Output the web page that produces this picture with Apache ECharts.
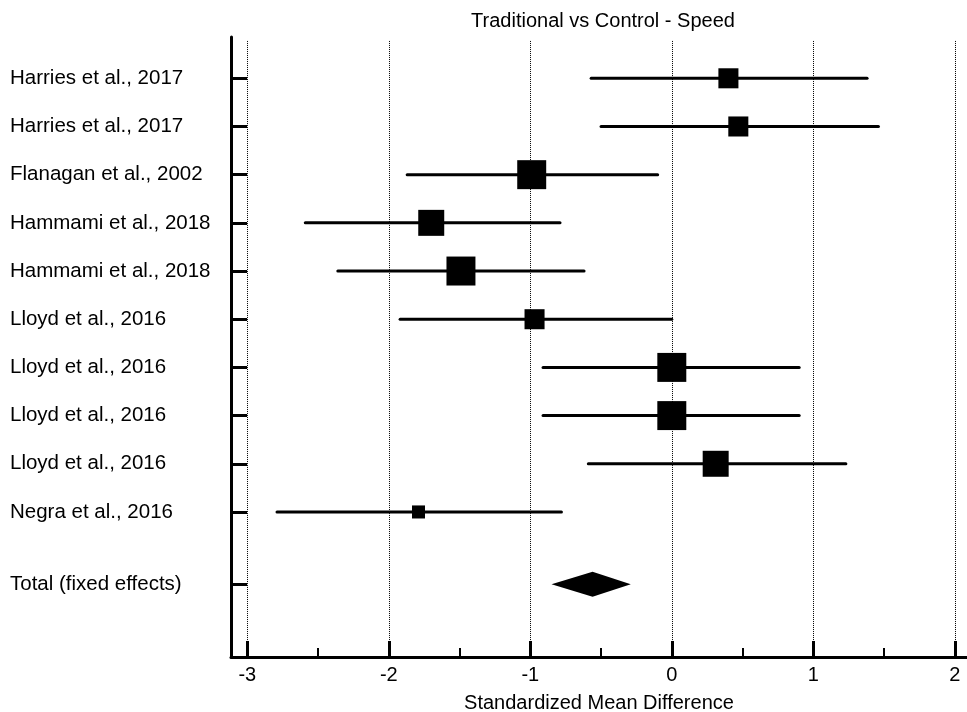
<!DOCTYPE html>
<html>
<head>
<meta charset="utf-8">
<script src="https://cdn.jsdelivr.net/npm/echarts@6/dist/echarts.min.js"></script>
<style>html,body{margin:0;padding:0;background:#fff;}#chart{width:967px;height:712px;}</style>
</head>
<body>
<div id="chart"></div>
<script>
// ---- data ----
var studies = ["Harries et al., 2017","Harries et al., 2017","Flanagan et al., 2002","Hammami et al., 2018","Hammami et al., 2018","Lloyd et al., 2016","Lloyd et al., 2016","Lloyd et al., 2016","Lloyd et al., 2016","Negra et al., 2016"];
var smd   = [0.40, 0.47, -0.99, -1.70, -1.49, -0.97, 0.00, 0.00, 0.31, -1.79];
var lower = [-0.57, -0.50, -1.87, -2.59, -2.36, -1.92, -0.91, -0.91, -0.59, -2.79];
var upper = [1.38, 1.46, -0.10, -0.79, -0.62, 0.00, 0.90, 0.90, 1.23, -0.78];
var weights = [6.6, 6.6, 13.8, 11.1, 13.8, 6.6, 13.8, 13.8, 11.1, 2.8];
var totalLabel = "Total (fixed effects)";
var totalEst = -0.56, totalLower = -0.85, totalUpper = -0.29;
var xTicks = [-3, -2, -1, 0, 1, 2];
var xMinorTicks = [-2.5, -1.5, -0.5, 0.5, 1.5];
var title = "Traditional vs Control - Speed";
var xName = "Standardized Mean Difference";

// ---- build ----
var FONT = "Liberation Sans, Arial, sans-serif";
var totalRow = studies.length + 0.5;
var rowVals = studies.map(function(_, i){ return i; }).concat([totalRow]);
var xMin = -3.115, xMax = 2.086;
var yMin = -0.857, yMax = 12.01, gridTop = -0.775;

var ciData = studies.map(function(_, i){ return [lower[i], upper[i], i]; });
var sqData = studies.map(function(_, i){ return [smd[i], i, weights[i]]; });

var chart = echarts.init(document.getElementById('chart'), null, {renderer: 'canvas'});
chart.setOption({
  backgroundColor: '#fff',
  animation: false,
  title: {
    text: title, left: 598, top: 6, textAlign: 'center',
    textStyle: {fontFamily: FONT, fontSize: 20, fontWeight: 'normal', color: '#000'}
  },
  grid: {left: 231, right: 0, top: 37, bottom: 55, containLabel: false, outerBoundsMode: 'none'},
  xAxis: [{
    type: 'value', min: xMin, max: xMax, interval: 1, position: 'bottom',
    name: xName, nameLocation: 'middle', nameGap: 36,
    nameTextStyle: {fontFamily: FONT, fontSize: 20, color: '#000'},
    axisLine: {show: true, onZero: false, lineStyle: {color: '#000', width: 3}},
    axisTick: {show: true, inside: true, length: 16, customValues: xTicks, lineStyle: {color: '#000', width: 3}},
    axisLabel: {show: true, customValues: xTicks, margin: 8, fontFamily: FONT, fontSize: 20, color: '#000'},
    splitLine: {show: false}
  }, {
    type: 'value', min: xMin, max: xMax, position: 'bottom',
    axisLine: {show: false, onZero: false},
    axisTick: {show: true, inside: true, length: 9, customValues: xMinorTicks, lineStyle: {color: '#000', width: 2}},
    axisLabel: {show: false},
    splitLine: {show: false}
  }],
  yAxis: {
    type: 'value', min: yMin, max: yMax, inverse: true,
    axisLine: {show: true, onZero: false, lineStyle: {color: '#000', width: 3}},
    axisTick: {show: true, inside: true, length: 16, customValues: rowVals, lineStyle: {color: '#000', width: 3}},
    axisLabel: {
      show: true, customValues: rowVals, align: 'left', margin: 221,
      fontFamily: FONT, fontSize: 20.5, color: '#000',
      formatter: function(v){ return v === totalRow ? totalLabel : studies[Math.round(v)]; }
    },
    splitLine: {show: false}
  },
  series: [
    {
      type: 'line', data: [], z: 1, silent: true,
      markLine: {
        symbol: ['none', 'none'], silent: true, animation: false,
        label: {show: false},
        lineStyle: {color: '#000', width: 1, type: [1, 1]},
        data: xTicks.map(function(v){ return [{coord: [v, gridTop]}, {coord: [v, yMax]}]; })
      }
    },
    {
      type: 'custom', z: 3, data: ciData,
      renderItem: function(params, api){
        var p1 = api.coord([api.value(0), api.value(2)]);
        var p2 = api.coord([api.value(1), api.value(2)]);
        return {type: 'line', shape: {x1: p1[0], y1: p1[1], x2: p2[0], y2: p2[1]},
          style: {stroke: '#000', lineWidth: 3, lineCap: 'round'}};
      }
    },
    {
      type: 'scatter', z: 4, data: sqData, symbol: 'rect',
      symbolSize: function(val){ return 7.8 * Math.sqrt(val[2]); },
      itemStyle: {color: '#000', opacity: 1}
    },
    {
      type: 'custom', z: 4, data: [[totalLower, totalEst, totalUpper, totalRow]],
      renderItem: function(params, api){
        var y = api.value(3);
        var l = api.coord([api.value(0), y]);
        var c = api.coord([api.value(1), y]);
        var r = api.coord([api.value(2), y]);
        var h = 12.5;
        return {type: 'polygon', shape: {points: [[l[0], l[1]], [c[0], c[1] - h], [r[0], r[1]], [c[0], c[1] + h]]},
          style: {fill: '#000'}};
      }
    }
  ]
});
</script>
</body>
</html>
